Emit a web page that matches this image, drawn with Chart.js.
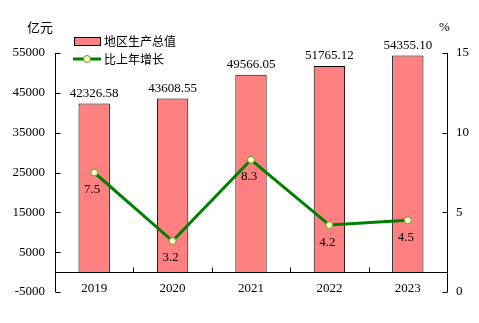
<!DOCTYPE html>
<html>
<head>
<meta charset="utf-8">
<script src="https://cdn.jsdelivr.net/npm/chart.js@4/dist/chart.umd.min.js"></script>
<style>
  body { margin: 0; background: #fff; }
  canvas { display: block; }
</style>
</head>
<body>
<canvas id="grafico" width="479" height="323"></canvas>
<script>
const anos = ['2019', '2020', '2021', '2022', '2023'];
const pib = [42326.58, 43608.55, 49566.05, 51765.12, 54355.10];
const crescimento = [7.5, 3.2, 8.3, 4.2, 4.5];
const ticksEsq = [-5000, 5000, 15000, 25000, 35000, 45000, 55000];
const ticksDir = [0, 5, 10, 15];

const corBarra = '#ff8080';
const corLinha = '#008000';
const fonteNum = '13px "Liberation Serif", "Times New Roman", serif';
const fonteCJK = '12px "Noto Sans CJK SC", sans-serif';

// eixos, rótulos e legenda desenhados à mão sobre as escalas do Chart.js
const eixosPlugin = {
  id: 'eixos',
  afterDatasetsDraw(chart) {
    const { ctx, chartArea: area, scales } = chart;
    const x = scales.x, y = scales.y, y1 = scales.y1;
    const zero = Math.round(y.getPixelForValue(0)) + 0.5;
    const esq = Math.round(area.left) + 0.5;
    const dir = Math.round(area.right) + 0.5;

    ctx.save();
    ctx.strokeStyle = '#000';
    ctx.lineWidth = 1;
    ctx.beginPath();
    // eixo esquerdo
    ctx.moveTo(esq, area.top);
    ctx.lineTo(esq, area.bottom);
    ticksEsq.forEach(v => {
      const py = Math.round(y.getPixelForValue(v)) + 0.5;
      ctx.moveTo(esq, py);
      ctx.lineTo(esq + 5, py);
    });
    // eixo direito
    ctx.moveTo(dir, area.top);
    ctx.lineTo(dir, area.bottom);
    ticksDir.forEach(v => {
      const py = Math.round(y1.getPixelForValue(v)) + 0.5;
      ctx.moveTo(dir, py);
      ctx.lineTo(dir - 5, py);
    });
    // eixo x na linha do zero
    ctx.moveTo(esq, zero);
    ctx.lineTo(dir, zero);
    for (let i = 1; i < anos.length; i++) {
      const px = Math.round((x.getPixelForValue(i - 1) + x.getPixelForValue(i)) / 2) + 0.5;
      ctx.moveTo(px, zero);
      ctx.lineTo(px, zero - 5);
    }
    ctx.stroke();

    ctx.fillStyle = '#000';
    ctx.font = fonteNum;
    ctx.textBaseline = 'middle';
    ctx.textAlign = 'right';
    ticksEsq.forEach(v => ctx.fillText(String(v), area.left - 10, y.getPixelForValue(v)));
    ctx.textAlign = 'left';
    ticksDir.forEach(v => ctx.fillText(String(v), area.right + 9, y1.getPixelForValue(v)));
    ctx.textAlign = 'center';
    anos.forEach((a, i) => ctx.fillText(a, x.getPixelForValue(i), 289));

    // valores das barras
    chart.getDatasetMeta(0).data.forEach((bar, i) => {
      ctx.fillText(pib[i].toFixed(2), bar.x, bar.y - 10);
    });
    // valores da linha
    chart.getDatasetMeta(1).data.forEach((pt, i) => {
      ctx.fillText(crescimento[i].toFixed(1), pt.x - 2, pt.y + 17);
    });

    // títulos dos eixos
    ctx.font = '13px "Noto Sans CJK SC", sans-serif';
    ctx.textAlign = 'left';
    ctx.fillText('亿元', 27, 27);
    ctx.font = fonteNum;
    ctx.fillText('%', 439, 28);

    // legenda
    ctx.fillStyle = corBarra;
    ctx.fillRect(74.5, 37.5, 26, 8);
    ctx.strokeRect(74.5, 37.5, 26, 8);
    ctx.strokeStyle = corLinha;
    ctx.lineWidth = 3;
    ctx.beginPath();
    ctx.moveTo(73, 59);
    ctx.lineTo(101, 59);
    ctx.stroke();
    ctx.beginPath();
    ctx.arc(87, 59, 3.5, 0, Math.PI * 2);
    ctx.fillStyle = '#ffffc0';
    ctx.fill();
    ctx.lineWidth = 1;
    ctx.strokeStyle = '#5aa02c';
    ctx.stroke();
    ctx.fillStyle = '#000';
    ctx.font = fonteCJK;
    ctx.fillText('地区生产总值', 104, 41);
    ctx.fillText('比上年增长', 104, 59);
    ctx.restore();
  }
};

new Chart(document.getElementById('grafico'), {
  type: 'bar',
  data: {
    labels: anos,
    datasets: [{
      label: '地区生产总值',
      data: pib,
      yAxisID: 'y',
      backgroundColor: corBarra,
      borderColor: '#000',
      borderWidth: 1,
      barPercentage: 0.4,
      categoryPercentage: 1,
      order: 2
    }, {
      type: 'line',
      label: '比上年增长',
      data: crescimento,
      yAxisID: 'y1',
      borderColor: corLinha,
      borderWidth: 3,
      pointRadius: 3.5,
      pointBackgroundColor: '#ffffc0',
      pointBorderColor: '#5aa02c',
      pointBorderWidth: 1,
      tension: 0,
      order: 1
    }]
  },
  options: {
    responsive: false,
    animation: false,
    layout: { padding: { left: 55, right: 32, top: 53, bottom: 31 } },
    plugins: {
      legend: { display: false },
      tooltip: { enabled: false }
    },
    scales: {
      x: { display: false, offset: true },
      y: { display: false, min: -5000, max: 55000 },
      y1: { display: false, min: 0, max: 15, position: 'right' }
    }
  },
  plugins: [eixosPlugin]
});
</script>
</body>
</html>
